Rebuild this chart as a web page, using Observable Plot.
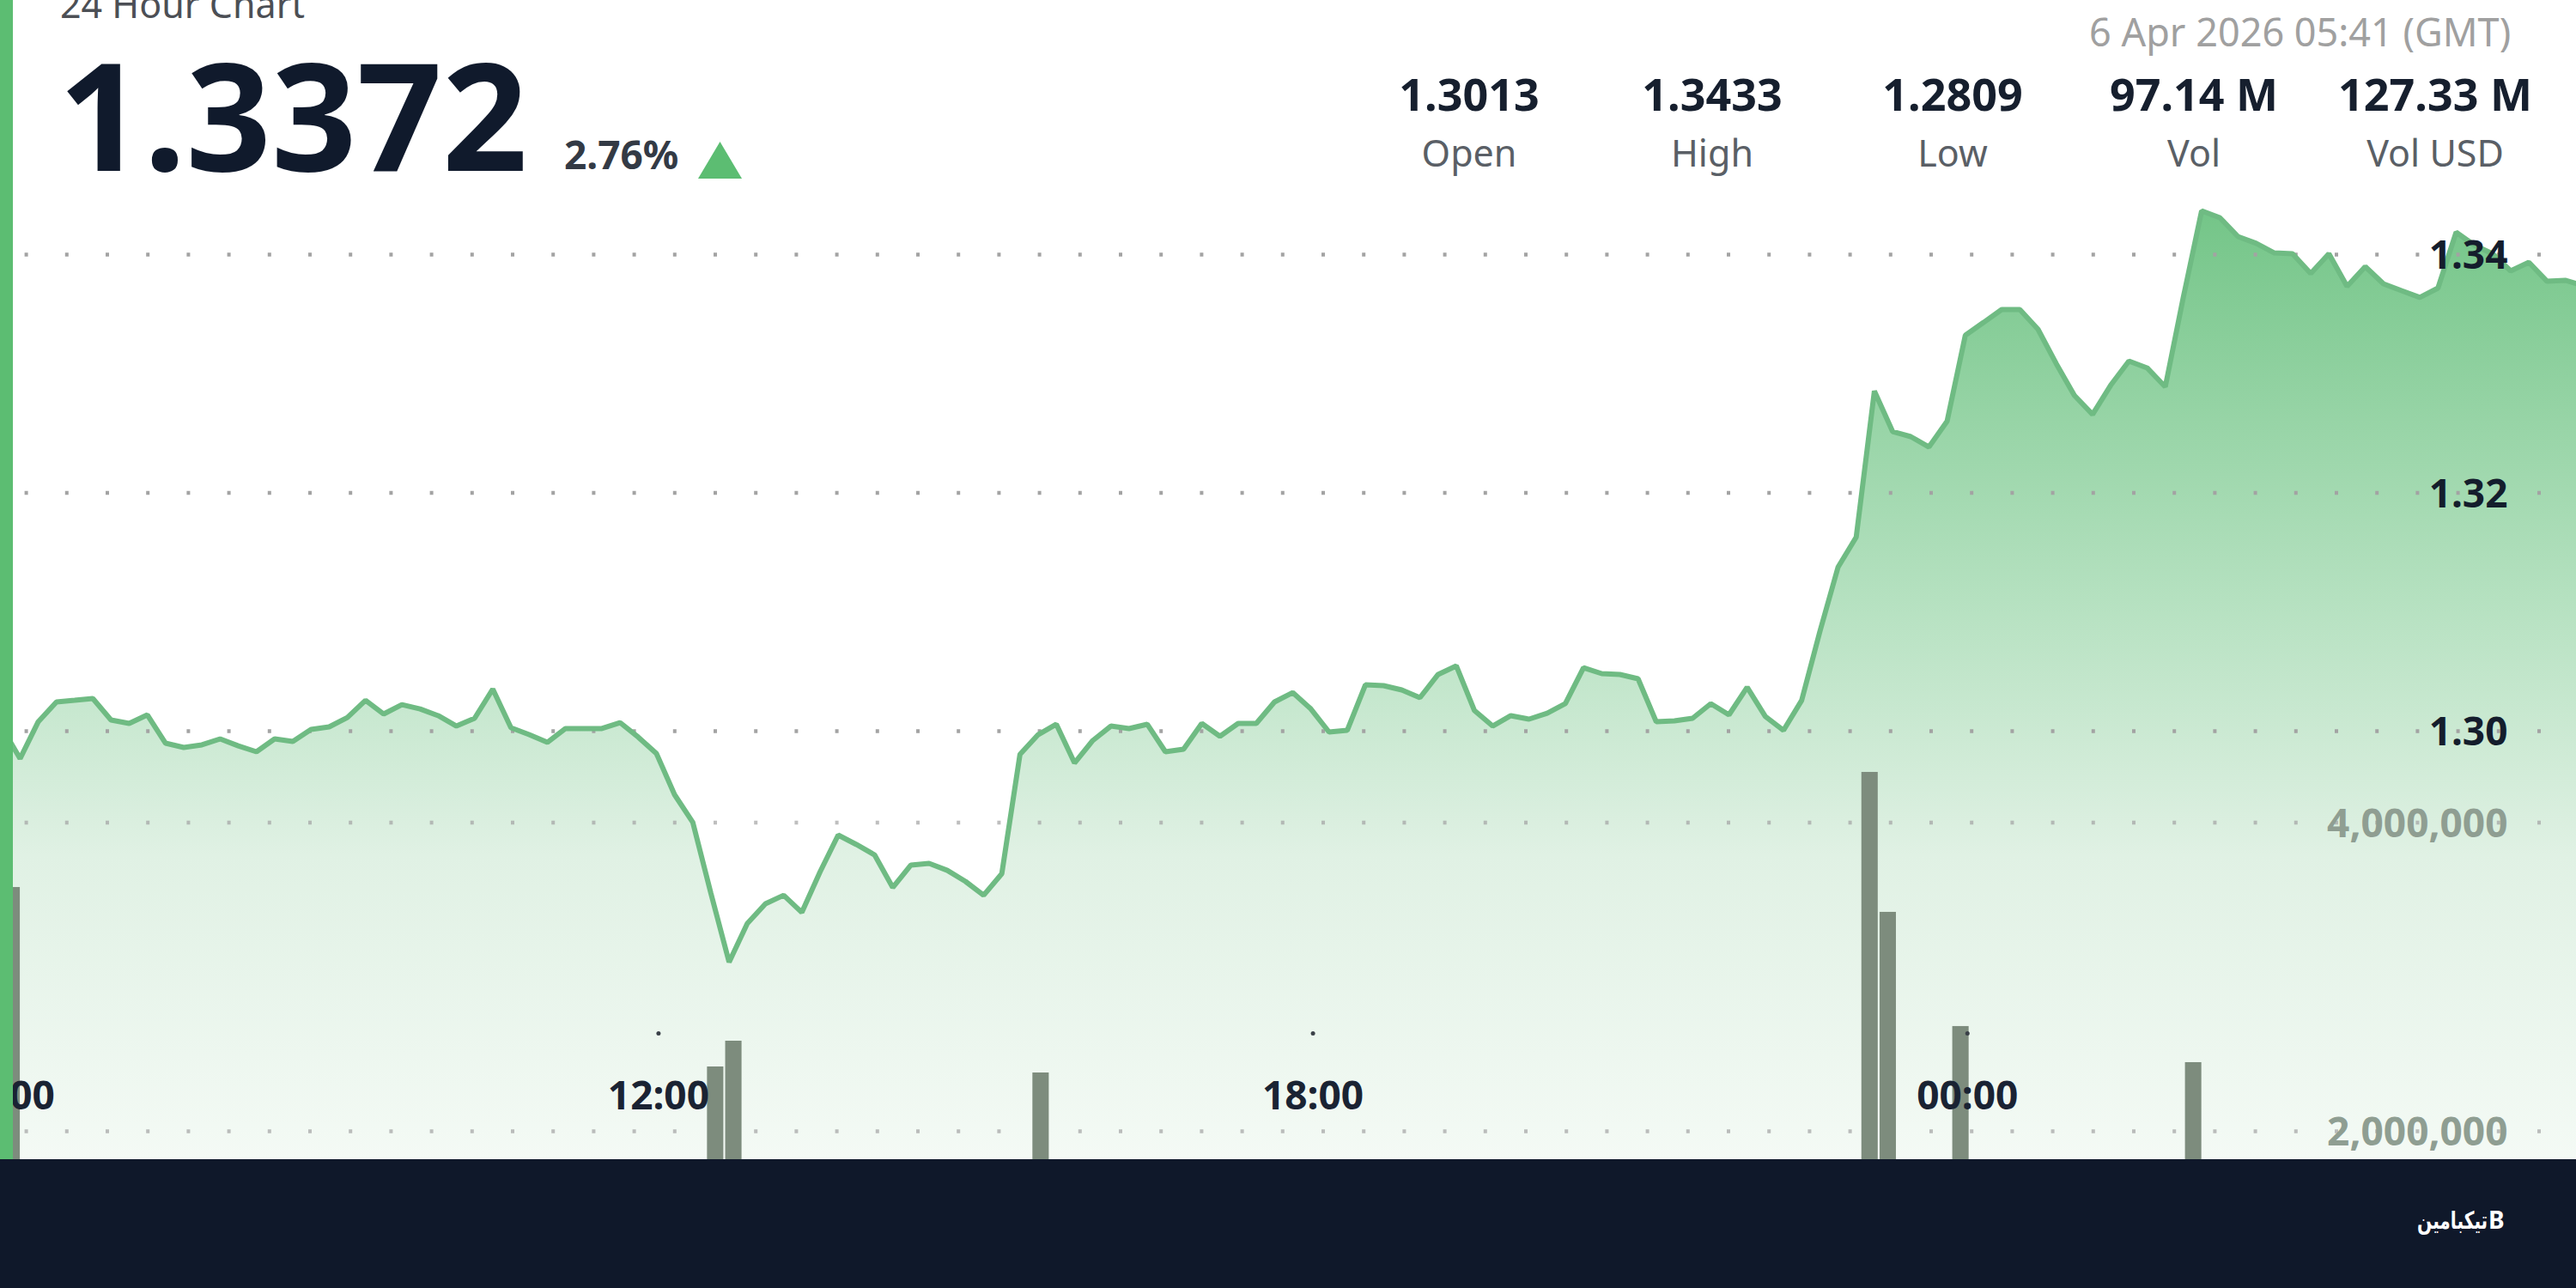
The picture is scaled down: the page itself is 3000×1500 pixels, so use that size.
<!DOCTYPE html>
<html>
<head>
<meta charset="utf-8">
<script src="https://cdn.jsdelivr.net/npm/d3@7"></script>
<script src="https://cdn.jsdelivr.net/npm/@observablehq/plot@0.6"></script>
<style>
  html, body { margin: 0; padding: 0; background: #fff; overflow: hidden; }
  #page { position: relative; width: 3000px; height: 1500px; overflow: hidden; background: #fff; font-family: "Noto Sans", sans-serif; }
  .layer { position: absolute; left: 0; top: 0; width: 3000px; height: 1350px; }
  .t { position: absolute; white-space: nowrap; line-height: 1; }
  .c { transform: translateX(-50%); }
  #strip { position: absolute; left: 0; top: 0; width: 15px; height: 1350px; background: #5cbd72; }
  #footer { position: absolute; left: 0; top: 1350px; width: 3000px; height: 150px; background: #0f182a; }
  #tri { position: absolute; left: 813px; top: 165px; width: 51px; height: 43px; background: #5cbd72; clip-path: polygon(50% 0, 100% 100%, 0 100%); }
</style>
</head>
<body>
<div id="page">
  <div id="priceLayer" class="layer"></div>
  <div id="volumeLayer" class="layer"></div>
  <div id="strip"></div>
  <div id="header"></div>
  <div id="tri"></div>
  <div id="footer"></div>
</div>
<script>
// ---- Data ----
const firstPointTime = "2026-04-05T05:58:50Z";
const prices = [
  1.3003,1.2977,1.3008,1.30245,1.30259,1.30274,1.30094,1.30065,1.30137,1.29899,
  1.29863,1.29885,1.29935,1.29877,1.29827,1.29935,1.29914,1.30014,1.30036,1.30115,
  1.30259,1.30144,1.30223,1.30187,1.3013,1.30043,1.30108,1.30353,1.30029,1.29971,
  1.29906,1.30022,1.30022,1.30022,1.30072,1.2995,1.29813,1.29467,1.29236,1.28638,
  1.28061,1.28386,1.28551,1.28623,1.28479,1.28818,1.29128,1.29049,1.28962,1.28688,
  1.28876,1.2889,1.28832,1.28739,1.28623,1.28804,1.29805,1.29971,1.30058,1.29733,
  1.29921,1.30043,1.30022,1.30058,1.29827,1.29849,1.30065,1.29957,1.30065,1.30065,
  1.30245,1.30324,1.30187,1.29993,1.30007,1.30389,1.30382,1.30346,1.30281,1.30476,
  1.30548,1.30173,1.30043,1.3013,1.30101,1.30151,1.30231,1.30533,1.30483,1.30476,
  1.3044,1.30079,1.30086,1.30108,1.30231,1.30137,1.30368,1.30123,1.30007,1.30259,
  1.30836,1.31377,1.31629,1.32854,1.32515,1.32472,1.32385,1.32602,1.33322,1.3343,
  1.33539,1.33539,1.33373,1.33085,1.32818,1.32659,1.32904,1.33106,1.33049,1.3289,
  1.33647,1.34367,1.3431,1.34151,1.34094,1.34014,1.34007,1.33841,1.34007,1.33733,
  1.33899,1.33755,1.33697,1.3364,1.33719,1.34187,1.34079,1.34007,1.33863,1.33935,
  1.33776,1.33784,1.3374
];
const volumeTimes = ["2026-04-05T06:04:24Z","2026-04-05T12:31:24Z","2026-04-05T12:41:24Z","2026-04-05T15:30:24Z","2026-04-05T23:06:24Z","2026-04-05T23:16:24Z","2026-04-05T23:56:24Z","2026-04-06T02:04:24Z"];
const volumes = [3580000,2417000,2584000,2378000,4326000,3419000,2679000,2445000];

const priceTicks = [1.30,1.32,1.34];
const volumeTicks = [2000000,4000000];
const timeTicks = ["2026-04-05T06:00Z","2026-04-05T12:00Z","2026-04-05T18:00Z","2026-04-06T00:00Z"];

const timeDomain = ["2026-04-05T05:58Z","2026-04-06T05:35Z"];
const priceDomain = [1.26404,1.36133];
const volumeDomain = [1816000,9329000];
const tickMarkVolume = 2634000;

const statValues = ["1.3013","1.3433","1.2809","97.14 M","127.33 M"];
const statLabels = ["Open","High","Low","Vol","Vol USD"];

// ---- Style ----
const FONT = '"Noto Sans", sans-serif';
const MIN = 60000;
const series = prices.map((price,i)=>({time:new Date(+new Date(firstPointTime)+i*10*MIN),price}));
const bars = volumes.map((volume,i)=>{const t=+new Date(volumeTimes[i]);return {x1:new Date(t-4.5*MIN),x2:new Date(t+4.5*MIN),volume};});
const dates = a=>a.map(d=>new Date(d));
const xOpt = {type:"utc",domain:dates(timeDomain),range:[0,3000]};
const dims = {width:3000,height:1350,marginTop:0,marginBottom:0,marginLeft:0,marginRight:0};
const style = {background:"transparent",fontFamily:FONT,overflow:"visible"};
const gridOpt = {stroke:"#a3a3a3",strokeWidth:4.5,strokeDasharray:"4 43.2",strokeDashoffset:18.6};

function gradientDefs(){
  const defs=d3.create("svg:defs");
  const g=defs.append("linearGradient").attr("id","areaFill").attr("x1",0).attr("x2",0).attr("y1",0).attr("y2",1);
  [[0,"#74c588"],[.41,"#b5e1c0"],[.68,"#e0f1e4"],[1,"#f4faf5"]].forEach(([o,c])=>g.append("stop").attr("offset",o).attr("stop-color",c));
  return defs.node();
}

document.getElementById("priceLayer").append(Plot.plot({
  ...dims, style, x:{...xOpt,axis:null}, y:{domain:priceDomain,range:[1350,0]},
  marks:[
    gradientDefs,
    Plot.areaY(series,{x:"time",y1:priceDomain[0],y2:"price",fill:"url(#areaFill)"}),
    Plot.ruleY(priceTicks,{...gridOpt}),
    Plot.lineY(series,{x:"time",y:"price",stroke:"#6fbb83",strokeWidth:6,strokeLinejoin:"miter"}),
    Plot.axisY(priceTicks,{anchor:"right",tickSize:0,tickPadding:0,dx:-80,dy:2,textAnchor:"end",label:null,
      tickFormat:d3.format(".2f"),fontSize:46,fontWeight:700,fill:"#141d2c"})
  ]
}));

document.getElementById("volumeLayer").append(Plot.plot({
  ...dims, style, x:xOpt, y:{domain:volumeDomain,range:[1350,0]},
  marks:[
    Plot.ruleY(volumeTicks,{...gridOpt,strokeOpacity:.7}),
    Plot.rect(bars,{x1:"x1",x2:"x2",y1:volumeDomain[0],y2:"volume",fill:"#7d8c7d"}),
    Plot.axisY(volumeTicks,{anchor:"right",tickSize:0,tickPadding:0,dx:-80,dy:2,textAnchor:"end",label:null,
      tickFormat:d3.format(","),fontSize:46,fontWeight:700,fill:"#8f9e92"}),
    Plot.dot(dates(timeTicks),{x:d=>d,y:()=>tickMarkVolume,r:2.5,fill:"#3a4048"}),
    Plot.axisX(dates(timeTicks),{anchor:"bottom",tickSize:0,tickPadding:0,dy:-73,lineAnchor:"middle",label:null,
      tickFormat:d3.utcFormat("%H:%M"),fontSize:46,fontWeight:700,fill:"#1a2333"})
  ]
}));

// ---- Header and footer text ----
const page=document.getElementById("page");
function txt(s,left,base,size,weight,color,center,font){
  const e=document.createElement("div");
  e.className="t"+(center?" c":"");
  e.textContent=s;
  e.style.cssText=`left:${left}px;top:${base-size*0.968}px;font-size:${size}px;font-weight:${weight};color:${color};font-family:${font||FONT};line-height:${size*1.16}px`;
  page.append(e);
  return e;
}
txt("24 Hour Chart",70,22,43,400,"#4c4f55");
txt("1.3372",68,199,174,700,"#101a2c");
txt("2.76%",657,198,46,700,"#333a45");
txt("6 Apr 2026 05:41 (GMT)",2433,55,45,400,"#a0a0a0");
const statCenters=[1711,1994,2274,2555,2836];
statValues.forEach((v,i)=>txt(v,statCenters[i],129,52,700,"#161f2e",true));
statLabels.forEach((v,i)=>txt(v,statCenters[i],195,43,400,"#5a5f66",true));
const logo=txt("تیکبامین",2815,1433,28,700,"#ffffff",false,'"DejaVu Sans", sans-serif');
logo.style.transformOrigin="left center";
logo.style.transform="scaleX(.72)";
txt("B",2898,1431,28,700,"#ffffff");
</script>
</body>
</html>
